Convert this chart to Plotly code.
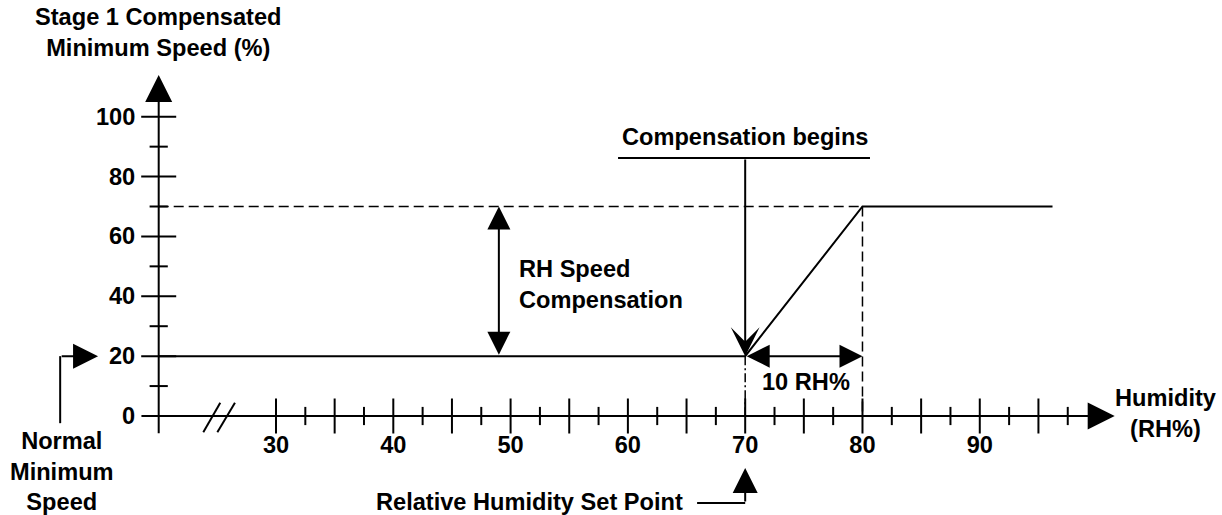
import plotly.graph_objects as go

# ---------------- data ----------------
x_major_ticks = [30, 35, 40, 45, 50, 55, 60, 65, 70, 75, 80, 85, 90, 95]
x_minor_ticks = [32.5, 37.5, 42.5, 47.5, 52.5, 57.5, 62.5, 67.5, 72.5, 77.5, 82.5, 87.5, 92.5, 97.5]
x_label_vals = [30, 40, 50, 60, 70, 80, 90]
x_labels = ["30", "40", "50", "60", "70", "80", "90"]

y_major_ticks = [20, 40, 60, 80, 100]
y_minor_ticks = [10, 30, 50, 70, 90]
y_label_vals = [0, 20, 40, 60, 80, 100]
y_labels = ["0", "20", "40", "60", "80", "100"]

axis_origin_x = 20          # humidity value where the (broken) speed axis sits
normal_min_speed = 20       # %
compensated_speed = 70      # %
set_point = 70              # RH%
ramp_span = 10              # RH%
curve_end_x = 96.2

curve_x = [axis_origin_x, set_point, set_point + ramp_span, curve_end_x]
curve_y = [normal_min_speed, normal_min_speed, compensated_speed, compensated_speed]

y_title = "Stage 1 Compensated<br>Minimum Speed (%)"
x_title = "Humidity<br>(RH%)"
normal_text = "Normal<br>Minimum<br>Speed"
setpoint_text = "Relative Humidity Set Point"
comp_begins_text = "Compensation begins"
rh_comp_text = "RH Speed<br>Compensation"
span_text = "10 RH%"

# ---------------- style ----------------
FONT = "Liberation Sans, Arial, Helvetica, sans-serif"
FS = 23.6
BLACK = "black"

fig = go.Figure()

def seg(xs, ys, width=2, dash="solid"):
    fig.add_trace(go.Scatter(x=xs, y=ys, mode="lines", hoverinfo="skip",
                             line=dict(color=BLACK, width=width, dash=dash),
                             showlegend=False, cliponaxis=False))

# response curve
seg(curve_x, curve_y, width=2)

# dashed guides
seg([axis_origin_x, set_point + ramp_span], [compensated_speed, compensated_speed], 1.5, "10px,5px")
seg([set_point + ramp_span, set_point + ramp_span], [compensated_speed, 0], 1.5, "10px,5px")
seg([set_point, set_point], [normal_min_speed, 0], 1.5, "9px,3px,2px,3px")

# axis break marks
seg([23.8, 25.25], [-5.4, 4.4], 2)
seg([25.0, 26.5], [-5.4, 4.4], 2)

# ticks on x axis
fig.add_trace(go.Scatter(x=x_major_ticks, y=[0] * len(x_major_ticks), mode="markers",
                         marker=dict(symbol="line-ns", size=25, line=dict(color=BLACK, width=2)),
                         hoverinfo="skip", showlegend=False, cliponaxis=False))
fig.add_trace(go.Scatter(x=x_minor_ticks, y=[0] * len(x_minor_ticks), mode="markers",
                         marker=dict(symbol="line-ns", size=13, line=dict(color=BLACK, width=2)),
                         hoverinfo="skip", showlegend=False, cliponaxis=False))
# ticks on y axis
fig.add_trace(go.Scatter(x=[axis_origin_x] * len(y_major_ticks), y=y_major_ticks, mode="markers",
                         marker=dict(symbol="line-ew", size=25, line=dict(color=BLACK, width=2)),
                         hoverinfo="skip", showlegend=False, cliponaxis=False))
fig.add_trace(go.Scatter(x=[axis_origin_x] * len(y_minor_ticks), y=y_minor_ticks, mode="markers",
                         marker=dict(symbol="line-ew", size=13, line=dict(color=BLACK, width=2)),
                         hoverinfo="skip", showlegend=False, cliponaxis=False))

# x tick labels
fig.add_trace(go.Scatter(x=x_label_vals, y=[-10.4] * len(x_label_vals), mode="text",
                         text=x_labels, textposition="middle center",
                         textfont=dict(family=FONT, size=FS, color=BLACK, weight="bold"),
                         hoverinfo="skip", showlegend=False, cliponaxis=False))

# underline for "Compensation begins"
seg([59.16, 80.64], [86.2, 86.2], 2)

# elbow lines
seg([11.6, 11.6], [-2.4, normal_min_speed], 2)
seg([65.9, set_point], [-29.1, -29.1], 2)

annotations = []

def arrow(x, y, ax, ay, head=2, size=2.0, width=2, both=False):
    d = dict(x=x, y=y, ax=ax, ay=ay, xref="x", yref="y", axref="x", ayref="y",
             text="", showarrow=True, arrowhead=head, arrowsize=size, arrowwidth=width,
             arrowcolor=BLACK, standoff=0, startstandoff=0)
    if both:
        d.update(arrowside="end+start", startarrowhead=head, startarrowsize=size)
    annotations.append(d)

# axes
arrow(axis_origin_x, 113.9, axis_origin_x, -6.3, head=2, size=2.7)
arrow(101.5, 0, 18.4, 0, head=2, size=2.7)
# compensation begins
arrow(set_point, normal_min_speed, set_point, 86.2, head=3, size=2.4)
# RH speed compensation (double)
arrow(49.0, compensated_speed, 49.0, normal_min_speed, head=2, size=2.3, both=True)
# 10 RH% (double)
arrow(set_point + ramp_span, normal_min_speed, set_point, normal_min_speed, head=2, size=2.3, both=True)
# normal minimum speed
arrow(14.83, normal_min_speed, 11.6, normal_min_speed, head=2, size=2.5)
# set point
arrow(set_point, -17.4, set_point, -29.1, head=2, size=2.5)

def label(x, y, text, xanchor="center", align="center"):
    annotations.append(dict(x=x, y=y, xref="x", yref="y", text=text, showarrow=False,
                            xanchor=xanchor, yanchor="middle", align=align,
                            font=dict(family=FONT, size=FS, color=BLACK, weight="bold")))

for v, t in zip(y_label_vals, y_labels):
    label(18.15, v, t, xanchor="right")

label(20.0, 128.0, y_title)
label(105.8, 1.0, x_title)
label(11.76, -18.7, normal_text)
label(51.65, -28.7, setpoint_text)
label(70.0, 93.2, comp_begins_text)
label(50.55, 44.1, rh_comp_text, xanchor="left", align="left")
label(75.2, 11.4, span_text)

fig.update_layout(
    width=1222, height=515,
    margin=dict(l=0, r=0, t=0, b=0),
    paper_bgcolor="white", plot_bgcolor="white",
    xaxis=dict(range=[6.47, 110.65], visible=False, fixedrange=True),
    yaxis=dict(range=[-33.08, 139.0], visible=False, fixedrange=True),
    annotations=annotations,
    showlegend=False,
)

fig.write_html("out.html", config={"displayModeBar": False},
               post_script="document.body.style.margin='0';document.body.style.overflow='hidden';")
